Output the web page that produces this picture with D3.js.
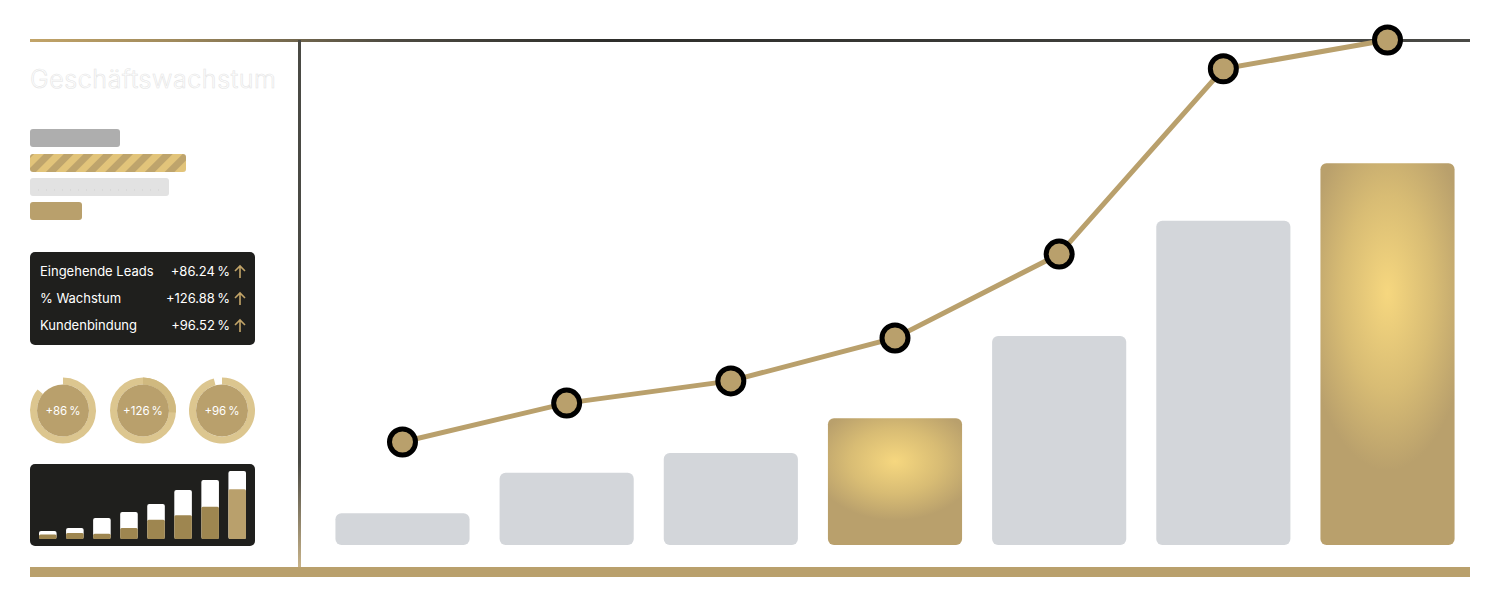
<!DOCTYPE html>
<html><head><meta charset="utf-8">
<script src="https://cdn.jsdelivr.net/npm/d3@7"></script>
<style>html,body{margin:0;padding:0;background:#fff;}svg{display:block;font-family:Inter,"Noto Sans",sans-serif;}</style>
</head><body><svg id="c" width="1501" height="601"></svg>
<script>
// ---- data ----
const categories = ["P1","P2","P3","P4","P5","P6","P7"];
const barValues = [6.3, 14.3, 18.2, 25.1, 41.4, 64.2, 75.6];
const barHighlight = [false, false, false, true, false, false, true];
const lineValues = [20.4, 28.1, 32.5, 41.0, 57.6, 94.3, 100];
const title = "Geschäftswachstum";
const kpiLabels = ["Eingehende Leads", "% Wachstum", "Kundenbindung"];
const kpiValues = ["+86.24\u2009%", "+126.88\u2009%", "+96.52\u2009%"];
const donutValues = [86, 126, 96];
const donutLabels = ["+86\u2009%", "+126\u2009%", "+96\u2009%"];
const legendWidths = [90, 156, 139, 52];
const miniTotals = [8, 11, 21, 27, 35, 49, 59, 68];
const miniParts = [4.5, 6, 5.3, 11, 19.3, 23.7, 32.3, 49.7];

const svg = d3.select("#c");
const defs = svg.append("defs");
const GOLD = "#b9a06c";

// gradients
const tg = defs.append("linearGradient").attr("id","topG").attr("gradientUnits","userSpaceOnUse")
  .attr("x1",30).attr("x2",1470).attr("y1",0).attr("y2",0);
tg.append("stop").attr("offset","0").attr("stop-color","#c2a468");
tg.append("stop").attr("offset","0.1").attr("stop-color","#a08a5c");
tg.append("stop").attr("offset","0.25").attr("stop-color","#4e4b42");
tg.append("stop").attr("offset","0.4").attr("stop-color","#2e2e2b");
tg.append("stop").attr("offset","1").attr("stop-color","#4a4a46");
const vg = defs.append("linearGradient").attr("id","vG").attr("x1",0).attr("x2",0).attr("y1",0).attr("y2",1);
vg.append("stop").attr("offset","0").attr("stop-color","#4a4a44");
vg.append("stop").attr("offset","0.8").attr("stop-color","#4a4a44");
vg.append("stop").attr("offset","1").attr("stop-color","#c9b48a");
const rg = defs.append("radialGradient").attr("id","barG").attr("cx",0.5).attr("cy",0.34).attr("r",0.62)
  .attr("gradientTransform","translate(0.5,0.34) scale(1,0.75) translate(-0.5,-0.34)");
rg.append("stop").attr("offset","0").attr("stop-color","#f6d77f");
rg.append("stop").attr("offset","0.55").attr("stop-color","#d8bc74");
rg.append("stop").attr("offset","1").attr("stop-color",GOLD);
const pat = defs.append("pattern").attr("id","stripes").attr("patternUnits","userSpaceOnUse")
  .attr("width",14).attr("height",14).attr("patternTransform","rotate(45)");
pat.append("rect").attr("width",14).attr("height",14).attr("fill","#e2c47a");
pat.append("rect").attr("width",7).attr("height",14).attr("fill","#bea46c");

// frame
svg.append("rect").attr("x",30).attr("y",39).attr("width",1440).attr("height",3).attr("fill","url(#topG)");
svg.append("rect").attr("x",298).attr("y",40).attr("width",3).attr("height",528).attr("fill","url(#vG)");
svg.append("rect").attr("x",30).attr("y",567).attr("width",1440).attr("height",10).attr("fill",GOLD);

// title
svg.append("text").attr("x",30).attr("y",88).attr("font-size",25).attr("font-weight",300)
  .attr("letter-spacing",0.6).attr("fill","#fff")
  .attr("stroke","#e4e4e4").attr("stroke-width",0.6).text(title);

// legend bars
const legY = [129, 154, 178, 202];
const legFill = ["#aeaeae","url(#stripes)","#e2e2e2",GOLD];
legendWidths.forEach((w,i)=>{
  svg.append("rect").attr("x",30).attr("y",legY[i]).attr("width",w).attr("height",18).attr("rx",3)
    .attr("fill",legFill[i]);
});
svg.append("line").attr("x1",38).attr("x2",162).attr("y1",190).attr("y2",190)
  .attr("stroke","#cfcfcf").attr("stroke-dasharray","1,7");

// KPI box
svg.append("rect").attr("x",30).attr("y",252).attr("width",225).attr("height",93).attr("rx",5).attr("fill","#1f1f1d");
kpiLabels.forEach((l,i)=>{
  const y = 276 + i*27;
  svg.append("text").attr("x",40).attr("y",y).attr("font-size",13).attr("fill","#fff").text(l);
  svg.append("text").attr("x",230).attr("y",y).attr("font-size",13).attr("fill","#fff").attr("text-anchor","end").text(kpiValues[i]);
  const ax = 240;
  svg.append("path").attr("d",`M${ax},${y+2} L${ax},${y-10} M${ax-5},${y-5} L${ax},${y-10} L${ax+5},${y-5}`)
    .attr("stroke","#c2a468").attr("stroke-width",1.6).attr("fill","none");
});

// donuts
const donutX = [63, 143, 222];
const arcOuter = d3.arc().innerRadius(26).outerRadius(33);
donutValues.forEach((v,i)=>{
  const g = svg.append("g").attr("transform",`translate(${donutX[i]},410.5)`);
  const f = Math.min(v,100)/100;
  g.append("path").attr("d",arcOuter({startAngle:0,endAngle:2*Math.PI*f})).attr("fill","#dcc68f");
  if (v>100) g.append("path").attr("d",arcOuter({startAngle:0,endAngle:2*Math.PI*(v-100)/100})).attr("fill","#d0b97f");
  g.append("circle").attr("r",26).attr("fill",GOLD);
  g.append("text").attr("y",4).attr("text-anchor","middle").attr("font-size",11.5).attr("fill","#fff").text(donutLabels[i]);
});

// mini bar chart
svg.append("rect").attr("x",30).attr("y",464).attr("width",225).attr("height",82).attr("rx",5).attr("fill","#1f1f1d");
const mx = d3.scaleBand().domain(d3.range(miniTotals.length)).range([39,246]).paddingInner(0.35);
const my = d3.scaleLinear().domain([0,68]).range([539,471]);
miniTotals.forEach((t,i)=>{
  svg.append("rect").attr("x",mx(i)).attr("y",my(t)).attr("width",mx.bandwidth()).attr("height",my(0)-my(t)).attr("rx",2).attr("fill","#fff");
  svg.append("rect").attr("x",mx(i)).attr("y",my(miniParts[i])).attr("width",mx.bandwidth()).attr("height",my(0)-my(miniParts[i])).attr("rx",1.5)
    .attr("fill", i===miniTotals.length-1 ? GOLD : "#9e8650");
});

// main chart
const x = d3.scaleBand().domain(categories).range([320,1470]).paddingInner(0.183).paddingOuter(0.094);
const y = d3.scaleLinear().domain([0,100]).range([545,40]);
svg.selectAll(".bar").data(categories).join("rect").attr("class","bar")
  .attr("x",d=>x(d)).attr("y",(d,i)=>y(barValues[i])).attr("width",x.bandwidth())
  .attr("height",(d,i)=>y(0)-y(barValues[i])).attr("rx",6)
  .attr("fill",(d,i)=>barHighlight[i]?"url(#barG)":"#d3d6da");
const line = d3.line().x((d,i)=>x(categories[i])+x.bandwidth()/2).y(d=>y(d));
svg.append("path").attr("d",line(lineValues)).attr("fill","none").attr("stroke",GOLD).attr("stroke-width",5);
svg.selectAll(".pt").data(lineValues).join("circle").attr("class","pt")
  .attr("cx",(d,i)=>x(categories[i])+x.bandwidth()/2).attr("cy",d=>y(d)).attr("r",13)
  .attr("fill",GOLD).attr("stroke","#000").attr("stroke-width",5);
</script></body></html>
